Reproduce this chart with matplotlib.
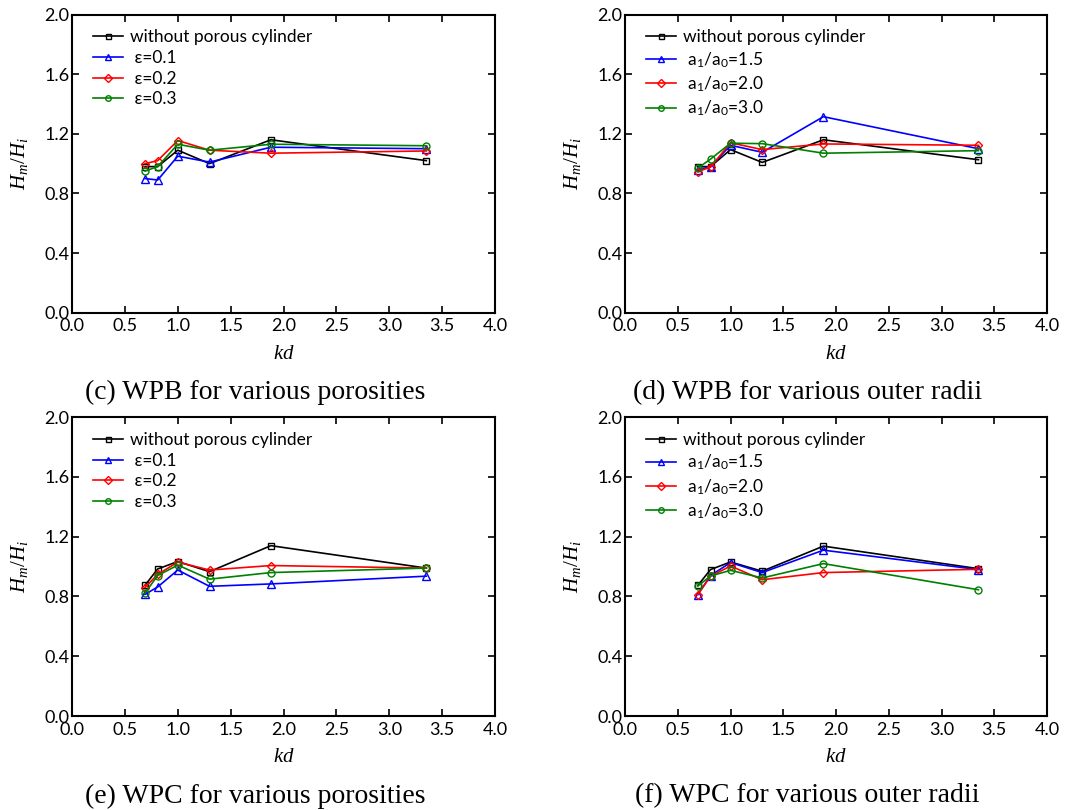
import numpy as np
import matplotlib
matplotlib.use('Agg')
import matplotlib.pyplot as plt

plt.rcParams['font.family'] = ['Lato', 'DejaVu Sans']
plt.rcParams['mathtext.fontset'] = 'custom'
plt.rcParams['mathtext.it'] = 'Liberation Serif:italic'
plt.rcParams['mathtext.rm'] = 'Liberation Serif'

kd = [0.69, 0.81, 1.0, 1.3, 1.88, 3.35]

# (c) WPB, porosities
c_base = [0.98, 0.98, 1.09, 1.00, 1.16, 1.02]
c_e1 = [0.90, 0.89, 1.05, 1.01, 1.11, 1.10]
c_e2 = [1.00, 1.02, 1.155, 1.09, 1.07, 1.085]
c_e3 = [0.95, 0.98, 1.13, 1.09, 1.13, 1.12]

# (d) WPB, outer radii
d_base = [0.98, 0.98, 1.094, 1.008, 1.16, 1.026]
d_r15 = [0.958, 0.98, 1.123, 1.076, 1.315, 1.10]
d_r20 = [0.947, 0.976, 1.14, 1.094, 1.132, 1.123]
d_r30 = [0.97, 1.03, 1.137, 1.134, 1.07, 1.087]

# (e) WPC, porosities
e_base = [0.875, 0.984, 1.034, 0.966, 1.14, 0.99]
e_e1 = [0.814, 0.864, 0.977, 0.868, 0.884, 0.936]
e_e2 = [0.86, 0.948, 1.03, 0.977, 1.007, 0.99]
e_e3 = [0.823, 0.94, 1.01, 0.916, 0.96, 0.99]

# (f) WPC, outer radii
f_base = [0.874, 0.98, 1.031, 0.969, 1.137, 0.986]
f_r15 = [0.813, 0.94, 1.027, 0.96, 1.11, 0.98]
f_r20 = [0.813, 0.935, 1.004, 0.912, 0.96, 0.982]
f_r30 = [0.87, 0.937, 0.975, 0.924, 1.02, 0.845]

eps_labels = ['without porous cylinder', ' \u03b5=0.1', ' \u03b5=0.2', ' \u03b5=0.3']
rad_labels = ['without porous cylinder', r' $\mathregular{a_1/a_0}$=1.5',
              r' $\mathregular{a_1/a_0}$=2.0', r' $\mathregular{a_1/a_0}$=3.0']

colors = ['black', 'blue', 'red', 'green']
markers = ['s', '^', 'D', 'o']
msizes = [4.5, 5.5, 4.5, 5]

panels = [
    ([0.0675, 0.614, 0.3965, 0.368], [c_base, c_e1, c_e2, c_e3], eps_labels,
     '(c) WPB for various porosities'),
    ([0.5858, 0.614, 0.3955, 0.368], [d_base, d_r15, d_r20, d_r30], rad_labels,
     '(d) WPB for various outer radii'),
    ([0.0675, 0.116, 0.3965, 0.369], [e_base, e_e1, e_e2, e_e3], eps_labels,
     '(e) WPC for various porosities'),
    ([0.5858, 0.116, 0.3955, 0.369], [f_base, f_r15, f_r20, f_r30], rad_labels,
     '(f) WPC for various outer radii'),
]

fig = plt.figure(figsize=(10.67, 8.1), dpi=100)

for rect, series, labels, caption in panels:
    ax = fig.add_axes(rect)
    for ys, lab, col, mk, ms in zip(series, labels, colors, markers, msizes):
        ax.plot(kd, ys, color=col, marker=mk, ms=ms, mfc='none', mec=col,
                mew=1.0, lw=1.2, label=lab)
    ax.set_xlim(0, 4)
    ax.set_ylim(0, 2)
    ax.set_xticks(np.arange(0, 4.01, 0.5))
    ax.set_yticks(np.arange(0, 2.01, 0.4))
    ax.xaxis.set_major_formatter(matplotlib.ticker.FormatStrFormatter('%.1f'))
    ax.yaxis.set_major_formatter(matplotlib.ticker.FormatStrFormatter('%.1f'))
    ax.tick_params(direction='in', top=True, right=True, length=5, width=1.2,
                   labelsize=13, pad=2)
    ax.tick_params(axis='x', pad=4)
    for s in ax.spines.values():
        s.set_linewidth(1.5)
    ax.set_xlabel(r'$kd$', fontsize=15, labelpad=6)
    ax.set_ylabel(r'$H_m/H_i$', fontsize=15, labelpad=10)
    ax.legend(loc='upper left', frameon=False, fontsize=12.5, handlelength=1.7,
              labelspacing=0.27, borderaxespad=0.45, handletextpad=0.4,
              markerscale=0.8, bbox_to_anchor=(0.015, 1.0))
    ax.text(0.432, -0.226, caption, transform=ax.transAxes, ha='center', va='top',
            fontsize=20, family='Liberation Serif')

fig.savefig('out.png', dpi=100)
